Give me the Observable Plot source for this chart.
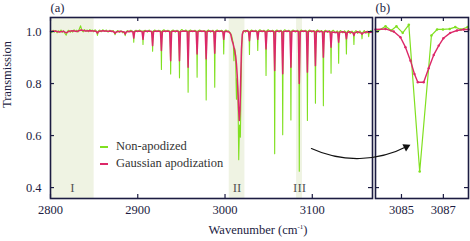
<!DOCTYPE html>
<html><head><meta charset="utf-8">
<script src="https://cdn.jsdelivr.net/npm/d3@7"></script>
<script src="https://cdn.jsdelivr.net/npm/@observablehq/plot@0.6"></script>
<style>
html,body{margin:0;padding:0;background:#fff;}
#wrap{position:relative;width:470px;height:241px;font-family:"Liberation Serif","Times New Roman",Tinos,"DejaVu Serif",serif;}
#wrap svg{position:absolute;left:0;top:0;}
#wrap svg text{font-family:"Liberation Serif","Times New Roman",Tinos,"DejaVu Serif",serif;}
#legend{position:absolute;left:100px;top:138px;font-size:12.5px;color:#333;line-height:17px;}
#legend .sw{display:inline-block;width:8px;height:2px;vertical-align:middle;margin-right:8px;}
#xlabel{position:absolute;left:0;width:516px;top:223px;text-align:center;font-size:12.5px;color:#1c1c42;}
#xlabel sup{font-size:7px;}
</style></head><body><div id="wrap"></div>
<script>
// ---------- data ----------
const seriesNames = ["Non-apodized", "Gaussian apodization"];
const seriesColors = ["#80e020", "#dc2868"];

const xDomainA = [2800, 3169];
const xTicksA = [2800, 2900, 3000, 3100];
const xDomainB = [3083.76, 3088.2];
const xTicksB = [3085, 3087];
const yDomain = [0.358, 1.054];
const yTicks = [0.4, 0.6, 0.8, 1.0];

const regionStart = [2800, 3004.8, 3082];
const regionEnd = [2850, 3022.8, 3088.8];
const regionLabel = ["I", "II", "III"];

// Non-apodized spectrum, panel (a): [wavenumber, transmission]
const nonApodizedA = [
[2800,1.002],[2801.5,0.996],[2803,1.005],[2804.5,0.998],[2806,1.004],[2807.5,0.995],[2809,1.003],[2810.5,0.999],
[2812,1.006],[2813.5,0.997],[2815,1.003],[2816.5,0.993],[2818,0.986],[2819.5,1.001],[2821,1.005],[2822.5,0.997],
[2824,1.004],[2825.5,0.998],[2827,1.007],[2828.5,1.000],[2830,1.005],[2831.5,0.998],[2833,1.010],[2834.5,1.022],
[2836,1.004],[2837.5,0.999],[2839,1.008],[2840.5,1.001],[2842,1.006],[2843.5,0.999],[2845,1.008],[2846.5,1.002],
[2848,1.006],[2849.5,0.999],[2851,1.007],[2852.8,1.001],[2853.8,0.985],[2854.8,1.002],[2856.5,1.006],[2858,0.999],
[2860,1.007],[2862,1.000],[2864,1.006],[2866,0.998],[2868,1.005],[2870,0.999],[2872,1.004],[2873,0.996],[2874,0.988],
[2875,0.997],[2877,1.004],[2879,0.997],[2881,1.003],[2883,0.995],[2884.8,0.998],[2885.6,0.984],[2886.4,0.997],
[2888,1.004],[2890,0.998],[2892,1.005],[2894,1.000],[2894.9,1.000],[2895.4,0.959],[2895.9,1.000],[2898,1.005],
[2900,0.999],[2902,1.006],[2904,1.001],[2905.5,1.002],[2906,0.950],[2906.5,1.002],[2908.5,1.005],[2911,0.998],
[2913,1.006],[2915,1.000],[2916.5,1.001],[2917,0.924],[2917.5,1.001],[2919.5,1.006],[2922,0.999],[2924,1.005],
[2926.6,1.001],[2927.1,0.854],[2927.6,1.001],[2930,1.007],[2932,0.999],[2934.5,1.005],[2937.2,1.000],[2937.7,0.837],
[2938.2,1.001],[2940.5,1.006],[2943,0.998],[2945,1.005],[2947.3,1.000],[2947.8,0.822],[2948.3,1.001],[2950.5,1.008],
[2953,1.000],[2955,1.006],[2957.2,1.000],[2957.7,0.767],[2958.2,1.002],[2960.5,1.006],[2963,0.999],[2965.5,1.005],
[2967.5,1.000],[2968,0.824],[2968.5,1.001],[2971,1.006],[2973.5,0.999],[2976,1.004],[2977.9,1.000],[2978.4,0.737],
[2978.9,1.001],[2981,1.006],[2983.5,0.998],[2986,1.005],[2987.7,1.000],[2988.2,0.786],[2988.7,1.001],[2991,1.006],
[2993.5,0.999],[2996,1.005],[2998,1.000],[2998.5,0.914],[2999,1.000],[3001,1.006],[3003,0.999],[3004,1.003],
[3006,0.995],[3007.5,0.985],[3008.5,0.970],[3009.5,0.955],[3010.2,0.888],[3011,0.935],[3012,0.910],[3013.1,0.740],
[3014,0.820],[3014.8,0.760],[3015.7,0.507],[3016.6,0.640],[3017.6,0.594],[3018.4,0.800],[3019.3,0.950],[3020.2,0.995],
[3021.5,1.004],[3023.5,0.998],[3025.5,1.006],[3027.5,1.000],[3028,0.912],[3028.5,1.001],[3030.5,1.006],[3033,0.999],
[3035,1.005],[3037,1.000],[3037.5,0.927],[3038,1.001],[3040,1.007],[3042.5,0.999],[3044.5,1.005],[3046.5,1.000],
[3047,0.831],[3047.5,1.001],[3049.5,1.007],[3052,0.999],[3054.5,1.005],[3056.4,1.000],[3056.9,0.530],[3057.4,1.001],
[3059.5,1.006],[3062,0.998],[3064,1.005],[3065.6,1.000],[3066.1,0.603],[3066.6,1.001],[3068.5,1.007],[3071,0.999],
[3073,1.005],[3075,1.000],[3075.5,0.660],[3076,1.001],[3078,1.006],[3080.5,0.998],[3083,1.005],[3084.6,1.000],
[3085.1,0.463],[3085.6,1.001],[3087.5,1.006],[3090,0.999],[3092,1.005],[3093.9,1.000],[3094.4,0.658],[3094.9,1.001],
[3097,1.006],[3099.5,0.998],[3101.5,1.004],[3103.1,1.000],[3103.6,0.724],[3104.1,1.001],[3106,1.006],[3108.5,0.998],
[3110.5,1.004],[3112.2,0.999],[3112.7,0.715],[3113.2,1.000],[3115,1.005],[3117.5,0.997],[3119.5,1.004],[3121,0.999],
[3121.5,0.840],[3122,1.000],[3124,1.005],[3126.5,0.996],[3128.5,1.003],[3129.7,0.998],[3130.2,0.878],[3130.7,0.999],
[3132.5,1.004],[3135,0.995],[3137,1.003],[3138.6,0.997],[3139.1,0.914],[3139.6,0.998],[3141.5,1.004],[3143.5,0.992],
[3145.5,1.002],[3147.2,0.996],[3147.7,0.950],[3148.2,0.997],[3150,1.004],[3152,0.993],[3154.5,1.003],[3156.5,0.994],
[3157,0.972],[3157.5,0.995],[3159.5,1.004],[3161.5,0.993],[3163,1.002],[3164.1,0.995],[3164.6,0.980],[3165.1,0.996],
[3167,1.004],[3169,0.998]
];

// Gaussian apodization spectrum, panel (a)
const gaussianA = [
[2800,1.000],[2805,1.002],[2810,0.998],[2815,1.001],[2818,0.995],[2821,1.001],[2826,1.003],[2830,1.000],[2835,1.006],
[2840,1.002],[2845,1.003],[2850,1.002],[2852.5,1.000],[2853.8,0.994],[2855,1.000],[2860,1.003],[2865,1.001],[2870,1.002],
[2873,0.998],[2874,0.993],[2875,0.998],[2880,1.001],[2884.5,0.998],[2885.6,0.990],[2886.7,0.998],[2890,1.001],
[2894.3,1.000],[2895.4,0.975],[2896.5,1.000],[2900,1.002],[2904.9,1.000],[2906,0.970],[2907.1,1.000],[2911,1.002],
[2915.9,1.000],[2917,0.946],[2918.1,1.000],[2922,1.002],[2926,1.000],[2927.1,0.927],[2928.2,1.000],[2932,1.002],
[2936.6,1.000],[2937.7,0.888],[2938.8,1.000],[2943,1.002],[2946.7,1.000],[2947.8,0.888],[2948.9,1.000],[2953,1.002],
[2956.6,1.000],[2957.7,0.863],[2958.8,1.000],[2963,1.002],[2966.9,1.000],[2968,0.914],[2969.1,1.000],[2973,1.002],
[2977.3,1.000],[2978.4,0.895],[2979.5,1.000],[2983,1.002],[2987.1,1.000],[2988.2,0.917],[2989.3,1.000],[2993,1.002],
[2997.4,1.000],[2998.5,0.970],[2999.6,1.000],[3003,1.001],[3005,0.997],[3006.5,0.990],[3008.1,0.965],[3009.5,0.950],
[3011.1,0.927],[3012.2,0.905],[3013.1,0.875],[3014,0.830],[3014.6,0.786],[3015.6,0.700],[3016.4,0.658],[3017.2,0.700],
[3018,0.820],[3018.8,0.930],[3019.8,0.990],[3021,1.001],[3024,1.003],[3026.9,1.000],[3028,0.965],[3029.1,1.000],
[3032,1.002],[3036.4,1.000],[3037.5,0.970],[3038.6,1.000],[3042,1.002],[3045.9,1.000],[3047,0.933],[3048.1,1.000],
[3052,1.002],[3055.8,1.000],[3056.9,0.850],[3058,1.000],[3062,1.002],[3065,1.000],[3066.1,0.838],[3067.2,1.000],
[3071,1.002],[3074.4,1.000],[3075.5,0.863],[3076.6,1.000],[3080,1.002],[3084,1.000],[3085.1,0.800],[3086.2,1.000],
[3090,1.002],[3093.3,1.000],[3094.4,0.844],[3095.5,1.000],[3099,1.002],[3102.5,1.000],[3103.6,0.869],[3104.7,1.000],
[3108,1.001],[3111.6,0.999],[3112.7,0.901],[3113.8,0.999],[3117,1.001],[3120.4,0.998],[3121.5,0.940],[3122.6,0.998],
[3126,0.996],[3129.1,0.997],[3130.2,0.959],[3131.3,0.997],[3135,0.999],[3138,0.996],[3139.1,0.972],[3140.2,0.996],
[3143,0.999],[3146.6,0.995],[3147.7,0.985],[3148.8,0.995],[3152,0.999],[3156,0.994],[3157,0.990],[3158,0.994],
[3162,0.999],[3165,0.996],[3169,0.998]
];

// Panel (b): zoom on line III
const nonApodizedB = [
[3083.84,1.000],[3084.24,1.020],[3084.51,1.004],[3084.76,1.020],[3085.06,0.995],[3085.35,1.026],[3085.87,0.462],
[3086.43,0.985],[3086.70,1.008],[3086.98,1.008],[3087.30,1.010],[3087.57,1.017],[3087.84,1.008],[3088.16,1.017]
];
const gaussianB = [
[3083.76,1.008],[3084.24,1.010],[3084.63,1.000],[3084.95,0.978],[3085.19,0.940],[3085.43,0.888],[3085.62,0.837],
[3085.78,0.805],[3086.06,0.805],[3086.30,0.859],[3086.54,0.910],[3086.78,0.946],[3087.00,0.974],[3087.33,0.995],
[3087.65,1.004],[3087.97,1.008],[3088.20,1.008]
];

// curved arrow from line III in (a) to panel (b), in panel (b) data units
const arrowFromTo = [{x1: 3080.7, y1: 0.55, x2: 3085.43, y2: 0.565}];

// ---------- drawing ----------
const navy = "#1c1c42";
const shade = "#eff3e3";
const serif = '"Liberation Serif","Times New Roman",Tinos,"DejaVu Serif",serif';
const regions = regionStart.map((s, i) => ({start: s, end: regionEnd[i], label: regionLabel[i]}));
const W = 470, H = 241, mT = 17, mB = 43;
const frameH = H - mT - mB;
const baseStyle = {fontFamily: serif, fontSize: "12.5px", color: navy, background: "transparent", overflow: "visible"};

function tickMarks(xt, yt, fw) {
  const o = {stroke: navy, strokeWidth: 1.2};
  return [
    Plot.tickX(xt, {x: d => d, insetTop: frameH - 4, ...o}),
    Plot.tickX(xt, {x: d => d, insetBottom: frameH - 4, ...o}),
    Plot.tickY(yt, {y: d => d, insetRight: fw - 4, ...o}),
    Plot.tickY(yt, {y: d => d, insetLeft: fw - 4, ...o})
  ];
}

const mLA = 50, mRA = 98;
const plotA = Plot.plot({
  width: W, height: H, marginTop: mT, marginBottom: mB, marginLeft: mLA, marginRight: mRA,
  style: baseStyle,
  x: {domain: xDomainA, ticks: xTicksA, tickSize: 0, tickPadding: 7, tickFormat: d => String(d), label: null},
  y: {domain: yDomain, ticks: yTicks, tickSize: 0, tickPadding: 9, tickFormat: d3.format(".1f"), label: null},
  marks: [
    Plot.rect(regions, {x1: "start", x2: "end", fill: shade}),
    Plot.text(regions, {x: d => (d.start + d.end) / 2, text: "label", frameAnchor: "bottom", dy: -11, lineAnchor: "middle", fontSize: 13, fill: "#555"}),
    Plot.line(nonApodizedA, {x: d => d[0], y: d => d[1], stroke: seriesColors[0], strokeWidth: 1.1}),
    Plot.line(gaussianA, {x: d => d[0], y: d => d[1], stroke: seriesColors[1], strokeWidth: 1.5}),
    ...tickMarks(xTicksA, yTicks, W - mLA - mRA),
    Plot.frame({stroke: navy, strokeWidth: 1.6}),
    Plot.text(["(a)"], {text: d => d, frameAnchor: "top-left", textAnchor: "start", dy: -10, lineAnchor: "middle"}),
    Plot.text(["Transmission"], {text: d => d, frameAnchor: "left", rotate: -90, dx: -44, lineAnchor: "middle"})
  ]
});

const mLB = 375, mRB = 2;
const plotB = Plot.plot({
  width: W, height: H, marginTop: mT, marginBottom: mB, marginLeft: mLB, marginRight: mRB,
  style: baseStyle,
  x: {domain: xDomainB, ticks: xTicksB, tickSize: 0, tickPadding: 7, tickFormat: d => String(d), label: null},
  y: {domain: yDomain, axis: null},
  marks: [
    Plot.line(nonApodizedB, {x: d => d[0], y: d => d[1], stroke: seriesColors[0], strokeWidth: 1.2}),
    Plot.dot(nonApodizedB, {x: d => d[0], y: d => d[1], fill: seriesColors[0], r: 1.3}),
    Plot.line(gaussianB, {x: d => d[0], y: d => d[1], stroke: seriesColors[1], strokeWidth: 1.4}),
    Plot.dot(gaussianB, {x: d => d[0], y: d => d[1], fill: seriesColors[1], r: 1.2}),
    ...tickMarks(xTicksB, yTicks, W - mLB - mRB),
    Plot.frame({stroke: navy, strokeWidth: 1.6}),
    Plot.text(["(b)"], {text: d => d, frameAnchor: "top-left", textAnchor: "start", dy: -10, lineAnchor: "middle"}),
    Plot.arrow(arrowFromTo, {x1: "x1", y1: "y1", x2: "x2", y2: "y2", bend: -27, stroke: "#111", strokeWidth: 1.1, headLength: 0, insetEnd: 3}),
    Plot.dot(arrowFromTo, {x: "x2", y: "y2", symbol: "triangle", r: 3, fill: "#111", rotate: 63, dx: -4.2, dy: 2.1})
  ]
});

const wrap = document.getElementById("wrap");
wrap.appendChild(plotA);
wrap.appendChild(plotB);

const legend = document.createElement("div");
legend.id = "legend";
legend.innerHTML = seriesNames.map((n, i) =>
  `<div><span class="sw" style="background:${seriesColors[i]}"></span>${n}</div>`).join("");
wrap.appendChild(legend);

const xl = document.createElement("div");
xl.id = "xlabel";
xl.innerHTML = "Wavenumber (cm<sup>-1</sup>)";
wrap.appendChild(xl);
</script></body></html>
